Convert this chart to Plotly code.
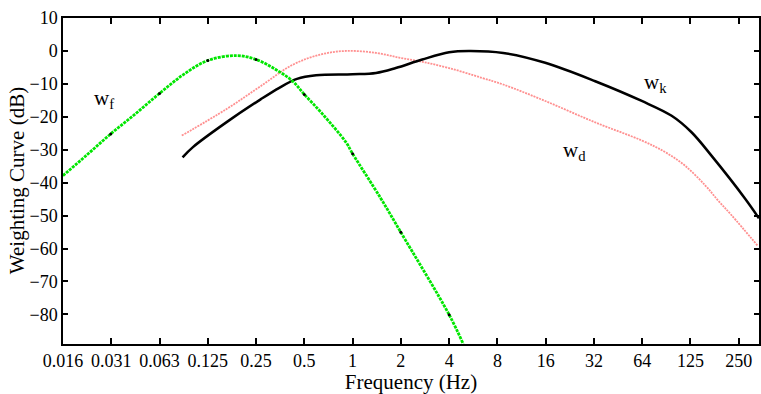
import math
import plotly.graph_objects as go

# ---- data (frequency in Hz, weighting in dB) ----
wf_freq = [0.0156, 0.022, 0.031, 0.044, 0.0625, 0.088, 0.125, 0.188, 0.25, 0.333, 0.423, 0.5,
           0.65, 0.908, 1.0, 1.5, 2.0, 4.0, 4.9]
wf_db = [-37.9, -31.6, -25.2, -19.2, -12.9, -7.2, -2.9, -1.4, -2.6, -5.7, -9.2, -13.2,
         -19.2, -27.7, -31.2, -44.8, -55.1, -80.1, -89.0]

wf_mark_freq = [0.031, 0.0625, 0.125, 0.25, 0.5, 1.0, 2.0, 4.0]
wf_mark_db = [-25.2, -12.9, -2.9, -2.6, -13.2, -31.2, -55.1, -80.1]

wk_freq = [0.087, 0.101, 0.163, 0.267, 0.349, 0.45, 0.592, 1.0, 1.4, 1.86, 2.72, 4.0, 5.31, 8.7,
           15.9, 32.6, 63.6, 97.7, 130, 173, 280, 342]
wk_db = [-32.3, -29.2, -21.7, -14.7, -11.2, -8.5, -7.4, -7.1, -6.7, -5.2, -2.6, -0.4, 0.0, -0.6,
         -3.6, -9.2, -15.2, -19.7, -24.7, -31.8, -44.8, -50.8]

wd_freq = [0.086, 0.163, 0.267, 0.423, 0.63, 0.91, 1.4, 1.98, 2.72, 4.0, 6.42, 8.7,
           15.9, 32.6, 63.6, 88.8, 118, 158, 191, 231, 338]
wd_db = [-25.7, -17.7, -10.7, -4.2, -1.1, 0.0, -0.6, -2.1, -3.3, -5.2, -8.2, -10.2,
         -15.2, -21.7, -27.2, -30.7, -34.8, -40.8, -45.5, -49.9, -59.3]

tick_vals = [2.0 ** k for k in range(-6, 9)]
tick_text = ["0.016", "0.031", "0.063", "0.125", "0.25", "0.5", "1", "2", "4", "8",
             "16", "32", "64", "125", "250"]
y_ticks = [10, 0, -10, -20, -30, -40, -50, -60, -70, -80]

labels = [("w<sub>f</sub>", 0.028, -14.7), ("w<sub>k</sub>", 77.3, -9.6), ("w<sub>d</sub>", 24.2, -30.4)]

FONT = "Liberation Serif"

fig = go.Figure()
fig.add_trace(go.Scatter(x=wd_freq, y=wd_db, mode="lines", line_shape="spline",
                         line=dict(color="#ff9090", width=1.8, dash="2px,1px")))
fig.add_trace(go.Scatter(x=wk_freq, y=wk_db, mode="lines", line_shape="spline",
                         line=dict(color="black", width=2.5)))
fig.add_trace(go.Scatter(x=wf_freq, y=wf_db, mode="lines", line_shape="spline",
                         line=dict(color="#00e600", width=2.8, dash="3px,1px")))
fig.add_trace(go.Scatter(x=wf_mark_freq, y=wf_mark_db, mode="markers",
                         marker=dict(color="black", size=3)))

for txt, f, db in labels:
    fig.add_annotation(x=math.log10(f), y=db, xref="x", yref="y", text=txt, showarrow=False,
                       font=dict(family=FONT, size=21, color="black"))

fig.add_annotation(x=(17 - 63) / 698, y=0.5, xref="paper", yref="paper",
                   text="Weighting Curve (dB)", textangle=-90, showarrow=False,
                   xanchor="center", yanchor="middle",
                   font=dict(family=FONT, size=21, color="black"))

fig.update_layout(
    width=761, height=394,
    margin=dict(l=63, r=0, t=18, b=47),
    paper_bgcolor="white", plot_bgcolor="white",
    showlegend=False,
    font=dict(family=FONT, color="black"),
)
fig.update_xaxes(
    type="log", range=[math.log10(2.0 ** -6), math.log10(2.0 ** 8.42)],
    tickvals=tick_vals, ticktext=tick_text, tickfont=dict(family=FONT, size=18),
    ticks="inside", ticklen=6, tickwidth=1.5, tickcolor="black",
    showline=True, linecolor="black", linewidth=1.5, mirror="ticks",
    showgrid=False, zeroline=False,
    title=dict(text="Frequency (Hz)", font=dict(family=FONT, size=21), standoff=8),
)
fig.update_yaxes(
    range=[-89, 10], tickvals=y_ticks, tickfont=dict(family=FONT, size=18),
    ticks="inside", ticklen=5, tickwidth=1.5, tickcolor="black",
    showline=True, linecolor="black", linewidth=1.5, mirror="ticks",
    showgrid=False, zeroline=False,
)

fig.write_html("out.html")
